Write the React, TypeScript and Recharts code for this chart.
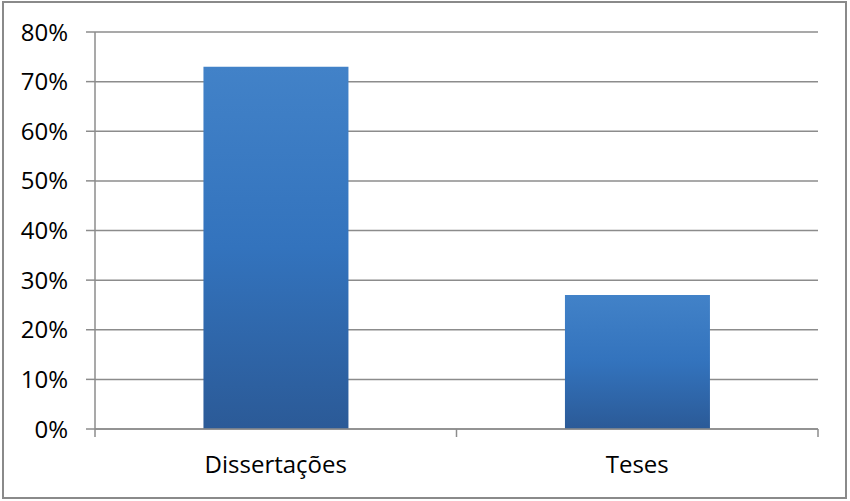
import React from "react";
import { BarChart, Bar, XAxis, YAxis, CartesianGrid } from "recharts";

// Chart data
const categories = ["Dissertações", "Teses"];
const shares = [0.73, 0.27];
const yTicks = [0, 0.1, 0.2, 0.3, 0.4, 0.5, 0.6, 0.7, 0.8];

const data = categories.map((name, i) => ({ name, value: shares[i] }));

const FONT = "'Open Sans', 'Noto Sans', sans-serif";
const GRID = "#8c8c8c";
const LABEL_GAP = 27;

// category label plus the Excel-style tick marks on the category boundaries
function CategoryTick(props: any) {
  const { x, y, payload, index, visibleTicksCount } = props;
  const axisY = y - LABEL_GAP;
  const half = payload?.offset ?? 0;
  return (
    <g>
      <line x1={x - half} x2={x - half} y1={axisY} y2={axisY + 8} stroke={GRID} strokeWidth={1.5} />
      {index === visibleTicksCount - 1 && (
        <line x1={x + half} x2={x + half} y1={axisY} y2={axisY + 8} stroke={GRID} strokeWidth={1.5} />
      )}
      <text x={x} y={y} dy="0.71em" textAnchor="middle" fill="#000" fontSize={24} fontFamily={FONT}>
        {payload.value}
      </text>
    </g>
  );
}

export default function App() {
  return (
    <div style={{ position: "absolute", left: 0, top: 0, width: 850, height: 501, background: "#fff" }}>
      {/* outer chart frame */}
      <div
        style={{
          position: "absolute",
          left: 2,
          top: 1,
          width: 845,
          height: 498,
          border: "2px solid #8a8a8a",
          boxSizing: "border-box",
        }}
      />
      <BarChart
        width={850}
        height={501}
        data={data}
        margin={{ top: 32, right: 32, bottom: 0, left: 0 }}
        barCategoryGap="30%"
        style={{ position: "absolute", left: 0, top: 0, fontFamily: FONT }}
      >
        <defs>
          <linearGradient id="barFill" x1="0" y1="0" x2="0" y2="1">
            <stop offset="0%" stopColor="#4282c8" />
            <stop offset="50%" stopColor="#3373bd" />
            <stop offset="100%" stopColor="#2b5a97" />
          </linearGradient>
        </defs>
        <CartesianGrid vertical={false} stroke={GRID} strokeWidth={1.5} />
        <XAxis
          dataKey="name"
          height={72}
          axisLine={{ stroke: GRID, strokeWidth: 1.5 }}
          tickLine={false}
          tickSize={0}
          tickMargin={LABEL_GAP}
          tick={<CategoryTick />}
          interval={0}
        />
        <YAxis
          width={95}
          domain={[0, 0.8]}
          ticks={yTicks}
          interval={0}
          tickFormatter={(v: number) => `${Math.round(v * 100)}%`}
          axisLine={{ stroke: GRID, strokeWidth: 1.5 }}
          tickLine={{ stroke: GRID, strokeWidth: 1.5 }}
          tickSize={9}
          tickMargin={18}
          tick={{ fill: "#000", fontSize: 24, fontFamily: FONT }}
        />
        <Bar dataKey="value" fill="url(#barFill)" isAnimationActive={false} />
      </BarChart>
    </div>
  );
}
